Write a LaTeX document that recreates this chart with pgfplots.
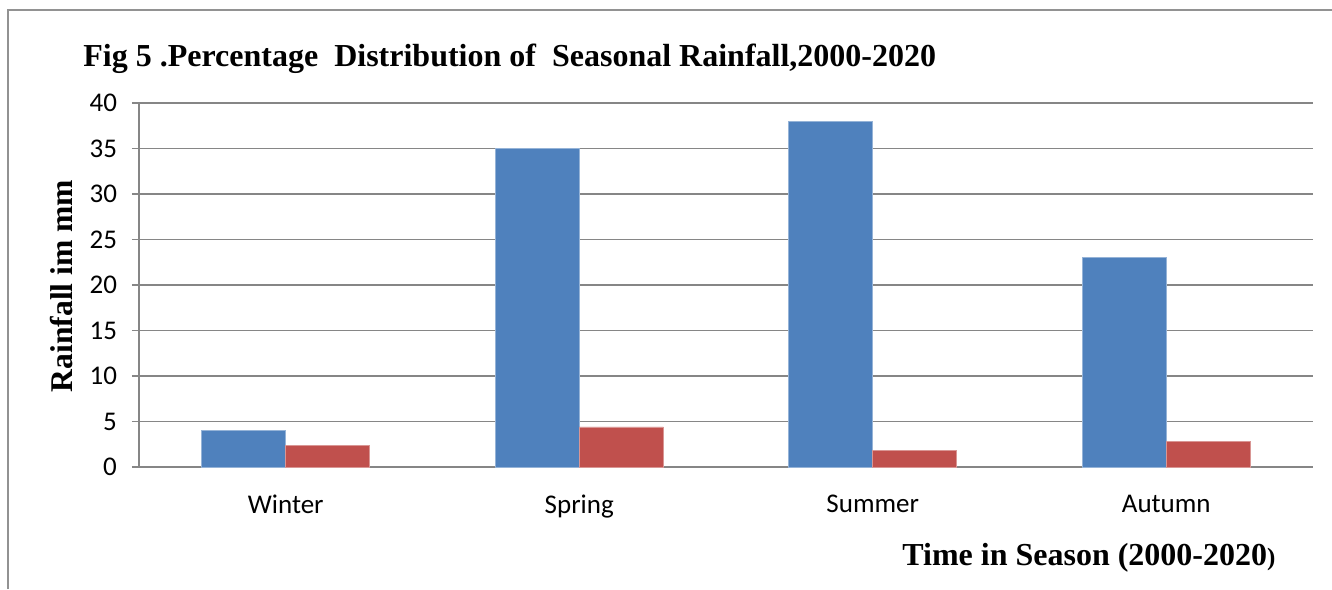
\documentclass[border=0pt]{standalone}
\usepackage{fontspec}
\setmainfont{Liberation Serif}
\newfontfamily\carlito{Carlito}
\usepackage{pgfplots}
\pgfplotsset{compat=1.18}
\definecolor{barblue}{HTML}{4F81BD}
\definecolor{barred}{HTML}{C0504D}
\definecolor{gridgray}{HTML}{868686}
\begin{document}
\begin{tikzpicture}[x=0.5pt,y=-0.5pt]
\useasboundingbox (0,0) rectangle (1332,589);
% outer chart frame
\draw[gridgray!90, line width=0.6pt] (8,589) -- (8,10) -- (1332,10);
% titles
\node[anchor=base west, inner sep=0pt, font=\fontsize{16}{19}\selectfont\bfseries]
  at (83,66) {Fig 5 .Percentage\ \ Distribution of\ \ Seasonal Rainfall,2000-2020};
\node[rotate=90, inner sep=0pt, font=\fontsize{15.8}{18}\selectfont\bfseries]
  at (62,286) {Rainfall im mm};
\node[anchor=base west, inner sep=0pt, font=\fontsize{16}{19}\selectfont\bfseries]
  at (902,565) {Time in Season (2000-2020{\fontsize{12.5}{15}\selectfont)}};
\begin{axis}[
  at={(69.5pt,-233.5pt)}, anchor=south west,
  scale only axis, width=587pt, height=182pt,
  ybar=0pt, bar width=42pt,
  xmin=-0.5, xmax=3.5, ymin=0, ymax=40,
  xtick=data, xticklabels={Winter,Spring,Summer,Autumn},
  ytick={0,5,...,40},
  ymajorgrids, grid style={gridgray, line width=0.75pt},
  axis x line*=bottom, axis y line*=left,
  axis line style={gridgray, line width=0.75pt, -},
  x tick style={draw=none},
  y tick style={gridgray, line width=0.75pt},
  tick align=outside, major tick length=3.5pt,
  tick label style={font=\fontsize{13.5}{16}\selectfont\carlito},
  /pgf/number format/assume math mode=true,
  xticklabel style={yshift=-7pt},
  yticklabel style={xshift=-4pt},
  clip=false,
]
\addplot[fill=barblue, draw=barblue!60!white, line width=0.4pt]
  coordinates {(0,4.0) (1,35.0) (2,38.0) (3,23.0)};
\addplot[fill=barred, draw=barred!60!white, line width=0.4pt]
  coordinates {(0,2.4) (1,4.4) (2,1.8) (3,2.8)};
\end{axis}
\end{tikzpicture}
\end{document}
